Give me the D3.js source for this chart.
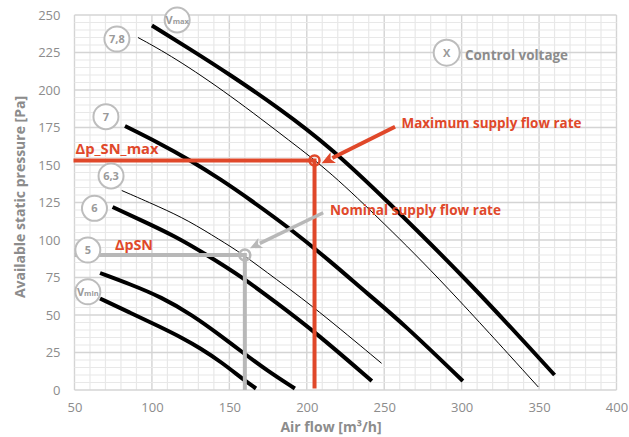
<!DOCTYPE html>
<html>
<head>
<meta charset="utf-8">
<script src="https://cdn.jsdelivr.net/npm/d3@7"></script>
<style>
  html, body { margin: 0; padding: 0; background: #ffffff; }
  svg { display: block; }
  text { font-family: "Open Sans", "Noto Sans", sans-serif; }
</style>
</head>
<body>
<script>
// ---------------- DATA ----------------
const xTicks = [50, 100, 150, 200, 250, 300, 350, 400];
const yTicks = [0, 25, 50, 75, 100, 125, 150, 175, 200, 225, 250];

const curveNames = ["Vmax", "7,8", "7", "6,3", "6", "5", "Vmin"];
const curveThick = [true, false, true, false, true, true, true];

const flowVmax = [100, 125, 150, 182, 215, 250, 305, 360];
const presVmax = [243, 227, 210.5, 188, 162, 128, 72, 10];

const flow78 = [91, 114, 150, 191, 215, 250, 288, 349.5];
const pres78 = [235, 222, 197, 164.5, 145.5, 111, 72, 2];

const flow7 = [82.6, 104, 124.6, 145, 163.3, 190, 215, 240, 262, 300.8];
const pres7 = [176, 165, 153.3, 140, 127, 107, 86, 63.5, 44.5, 6];

const flow63 = [80.5, 105, 123.5, 144, 158, 180, 205, 248.3];
const pres63 = [133, 122, 113, 100, 91, 74, 55, 17.8];

const flow6 = [74.6, 93.4, 115, 134, 158, 180, 205, 242];
const pres6 = [122, 113, 102.5, 91, 75.5, 58.5, 39, 6];

const flow5 = [66.5, 86, 106, 126, 144, 158, 175, 192.3];
const pres5 = [78, 70.5, 62, 50, 36.5, 25.5, 12.5, 1];

const flowVmin = [66.5, 86, 105, 120, 131, 145, 159, 167.2];
const presVmin = [61, 51.5, 42.2, 34.5, 28, 18.5, 7, 1];

// Operating points
const maxFlow = 205, maxPres = 153;      // Maximum supply flow rate / Δp_SN_max
const nomFlow = 160, nomPres = 90;       // Nominal supply flow rate / ΔpSN

// ---------------- CHART ----------------
const W = 629, H = 437;
const svg = d3.select("body").append("svg").attr("width", W).attr("height", H);

const x = d3.scaleLinear().domain([50, 400]).range([74.5, 616.5]);
const y = d3.scaleLinear().domain([0, 250]).range([390, 15]);

const RED = "#e0482a";
const GREY_TXT = "#8c8c8c";
const GREY_ANN = "#b8b8b8";

// grid
const grid = svg.append("g");
d3.range(50, 401, 10).forEach(v => {
  const major = v % 50 === 0;
  grid.append("line")
    .attr("x1", x(v)).attr("x2", x(v)).attr("y1", y(0)).attr("y2", y(250))
    .attr("stroke", major ? "#d4d4d4" : "#e8e8e8")
    .attr("stroke-width", major ? 1.4 : 1.2);
});
d3.range(0, 251, 5).forEach(v => {
  const major = v % 25 === 0;
  grid.append("line")
    .attr("x1", x(50)).attr("x2", x(400)).attr("y1", y(v)).attr("y2", y(v))
    .attr("stroke", major ? "#d4d4d4" : "#e8e8e8")
    .attr("stroke-width", major ? 1.4 : 1.2);
});

// axes (labels only)
const xAxis = d3.axisBottom(x).tickValues(xTicks).tickSize(0).tickPadding(13);
const gx = svg.append("g").attr("transform", `translate(0,${y(0)})`).call(xAxis);
gx.select(".domain").remove();
gx.selectAll("text").attr("fill", GREY_TXT).style("font-size", "13px");

const yAxis = d3.axisLeft(y).tickValues(yTicks).tickSize(0).tickPadding(14);
const gy = svg.append("g").attr("transform", `translate(${x(50)},0)`).call(yAxis);
gy.select(".domain").remove();
gy.selectAll("text").attr("fill", GREY_TXT).style("font-size", "13px");

svg.append("text")
  .attr("x", 331).attr("y", 432).attr("text-anchor", "middle")
  .attr("fill", GREY_TXT).style("font-size", "14px").style("font-weight", "bold")
  .text("Air flow [m³/h]");

svg.append("text")
  .attr("transform", "translate(25,197) rotate(-90)").attr("text-anchor", "middle")
  .attr("fill", GREY_TXT).style("font-size", "14px").style("font-weight", "bold")
  .text("Available static pressure [Pa]");

// curves
const flows = [flowVmax, flow78, flow7, flow63, flow6, flow5, flowVmin];
const press = [presVmax, pres78, pres7, pres63, pres6, pres5, presVmin];
const line = d3.line().x(d => x(d[0])).y(d => y(d[1])).curve(d3.curveBasis);

flows.forEach((fl, i) => {
  const pts = fl.map((f, j) => [f, press[i][j]]);
  svg.append("path").datum(pts)
    .attr("d", line)
    .attr("fill", "none")
    .attr("stroke", "#000")
    .attr("stroke-width", curveThick[i] ? 4 : 1)
    .attr("stroke-linecap", "butt");
});

// annotation: nominal (grey)
svg.append("path")
  .attr("d", `M${x(50)},${y(nomPres)} H${x(nomFlow)} V${y(0)}`)
  .attr("fill", "none").attr("stroke", GREY_ANN).attr("stroke-width", 4);

// annotation: maximum (red)
svg.append("path")
  .attr("d", `M${x(50) - 1},${y(maxPres)} H${x(maxFlow)} V${y(0) - 1.5}`)
  .attr("fill", "none").attr("stroke", RED).attr("stroke-width", 4);

svg.append("circle").attr("cx", x(nomFlow)).attr("cy", y(nomPres)).attr("r", 5.5)
  .attr("fill", "none").attr("stroke", GREY_ANN).attr("stroke-width", 2.5);
svg.append("circle").attr("cx", x(maxFlow)).attr("cy", y(maxPres)).attr("r", 5)
  .attr("fill", "none").attr("stroke", RED).attr("stroke-width", 2.5);

function arrow(x1, y1, x2, y2, color, w, headLen, headW) {
  const dx = x2 - x1, dy = y2 - y1, L = Math.hypot(dx, dy);
  const ux = dx / L, uy = dy / L;
  const bx = x2 - ux * headLen, by = y2 - uy * headLen;
  svg.append("line").attr("x1", x1).attr("y1", y1).attr("x2", bx + ux * 1).attr("y2", by + uy * 1)
    .attr("stroke", color).attr("stroke-width", w);
  const px = -uy, py = ux;
  svg.append("path")
    .attr("d", `M${x2},${y2} L${bx + px * headW},${by + py * headW} L${bx + ux * 3},${by + uy * 3} L${bx - px * headW},${by - py * headW} Z`)
    .attr("fill", color);
}
// red arrow: tail near label, tip near max point
arrow(x(257), y(175.5), x(209.6), y(151.1), RED, 4, 13, 6);
// grey arrow
arrow(x(210.6), y(118.2), x(163.3), y(94.5), GREY_ANN, 3.5, 12, 5.5);

// annotation texts
function label(txt, px, py, color, size, len) {
  const t = svg.append("text").attr("x", px).attr("y", py)
    .attr("fill", color).style("font-size", size + "px").style("font-weight", "bold")
    .text(txt);
  if (len) t.attr("textLength", len).attr("lengthAdjust", "spacingAndGlyphs");
  return t;
}
label("Maximum supply flow rate", 401.5, 128, RED, 14, 180);
label("Nominal supply flow rate", 330, 215, RED, 14, 171);
label("Δp_SN_max", 75.5, 154, RED, 14, 83);
label("ΔpSN", 115, 249.5, RED, 14, 38);
label("Control voltage", 465, 59.5, GREY_TXT, 14, 103);

// numbered circles (control voltages)
const badgeFlow = [116.3, 77.4, 70.3, 73.6, 62.9, 58.6, 58.6];
const badgePres = [246.7, 234, 182.2, 142.7, 121.1, 93.3, 65.5];
const badgeR = 12.5;

curveNames.forEach((name, i) => {
  const cx = x(badgeFlow[i]), cy = y(badgePres[i]);
  svg.append("circle").attr("cx", cx).attr("cy", cy).attr("r", badgeR)
    .attr("fill", "#fff").attr("stroke", "#bdbdbd").attr("stroke-width", 2);
  const t = svg.append("text").attr("x", cx).attr("y", cy + 4).attr("text-anchor", "middle")
    .attr("fill", "#9a9a9a").style("font-weight", "bold");
  if (name === "Vmax" || name === "Vmin") {
    t.append("tspan").style("font-size", "11px").text("V");
    t.append("tspan").style("font-size", "7.5px").text(name.slice(1));
  } else {
    t.style("font-size", "11px").text(name);
  }
});

// legend badge
svg.append("circle").attr("cx", 446.7).attr("cy", 52.7).attr("r", 13)
  .attr("fill", "#fff").attr("stroke", "#bdbdbd").attr("stroke-width", 2);
svg.append("text").attr("x", 446.7).attr("y", 57).attr("text-anchor", "middle")
  .attr("fill", "#9a9a9a").style("font-size", "11px").style("font-weight", "bold").text("X");
</script>
</body>
</html>
